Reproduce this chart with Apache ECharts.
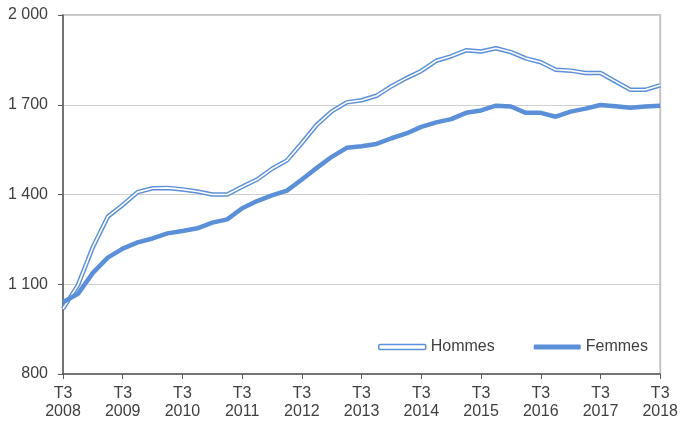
<!DOCTYPE html>
<html>
<head>
<meta charset="utf-8">
<script src="https://cdn.jsdelivr.net/npm/echarts@6/dist/echarts.min.js"></script>
<style>
  html, body { margin: 0; padding: 0; background: #fff; }
  #chart { width: 681px; height: 421px; }
</style>
</head>
<body>
<div id="chart"></div>
<script>
// trimestres, de T3 2008 à T3 2018
const quarters = [
  'T3 2008', 'T4 2008', 'T1 2009', 'T2 2009',
  'T3 2009', 'T4 2009', 'T1 2010', 'T2 2010',
  'T3 2010', 'T4 2010', 'T1 2011', 'T2 2011',
  'T3 2011', 'T4 2011', 'T1 2012', 'T2 2012',
  'T3 2012', 'T4 2012', 'T1 2013', 'T2 2013',
  'T3 2013', 'T4 2013', 'T1 2014', 'T2 2014',
  'T3 2014', 'T4 2014', 'T1 2015', 'T2 2015',
  'T3 2015', 'T4 2015', 'T1 2016', 'T2 2016',
  'T3 2016', 'T4 2016', 'T1 2017', 'T2 2017',
  'T3 2017', 'T4 2017', 'T1 2018', 'T2 2018',
  'T3 2018'
]

const hommes = [
  1018, 1097, 1224, 1326,
  1365, 1408, 1421, 1422,
  1417, 1410, 1400, 1400,
  1426, 1450, 1486, 1514,
  1572, 1633, 1678, 1708,
  1715, 1730, 1762, 1789,
  1813, 1847, 1862, 1882,
  1878, 1889, 1876, 1855,
  1842, 1817, 1814, 1806,
  1806, 1778, 1750, 1750,
  1765
]

const femmes = [
  1040, 1068, 1138, 1189,
  1219, 1240, 1253, 1270,
  1278, 1287, 1306, 1317,
  1354, 1378, 1397, 1413,
  1450, 1489, 1526, 1556,
  1561, 1569, 1588, 1604,
  1626, 1641, 1652, 1673,
  1681, 1697, 1694, 1673,
  1673, 1660, 1677, 1687,
  1699, 1695, 1690, 1694,
  1697
]

const yTicks = { min: 800, max: 2000, interval: 300 }

const blue = '#5b8fd8'
const textColor = '#404040'

// "2 000" : séparateur de milliers en espace
const fmtNum = v => String(v).replace(/\B(?=(\d{3})+(?!\d))/g, ' ')

const chart = echarts.init(document.getElementById('chart'))
chart.setOption({
  animation: false,
  textStyle: { fontFamily: 'Liberation Sans, Arial, sans-serif' },
  grid: {
    left: 63,
    right: 19,
    top: 15,
    bottom: 46,
    show: true,
    borderColor: '#c4c4c4',
    borderWidth: 2
  },
  legend: {
    left: 378,
    top: 339,
    padding: 0,
    itemWidth: 47,
    itemHeight: 5,
    itemGap: 39,
    textStyle: { fontSize: 16, color: textColor },
    data: [
      {
        name: 'Hommes',
        icon: 'roundRect',
        itemStyle: { color: '#fff', borderColor: blue, borderWidth: 1.5 }
      },
      {
        name: 'Femmes',
        icon: 'roundRect',
        itemStyle: { color: blue, borderWidth: 0 }
      }
    ]
  },
  xAxis: {
    type: 'category',
    data: quarters,
    boundaryGap: false,
    axisLine: { lineStyle: { color: '#595959', width: 1.5 } },
    axisTick: { interval: 3, length: 5, lineStyle: { color: '#595959' } },
    axisLabel: {
      interval: 3,
      margin: 11,
      fontSize: 16,
      lineHeight: 18,
      color: textColor,
      formatter: v => v.replace(' ', '\n')
    },
    splitLine: { show: false }
  },
  yAxis: {
    type: 'value',
    min: yTicks.min,
    max: yTicks.max,
    interval: yTicks.interval,
    axisLine: { show: true, lineStyle: { color: '#595959', width: 1.5 } },
    axisTick: { show: true, length: 5, lineStyle: { color: '#595959' } },
    axisLabel: {
      margin: 15,
      fontSize: 16,
      color: textColor,
      formatter: fmtNum
    },
    splitLine: { lineStyle: { color: '#cfcfcf', width: 1 } }
  },
  series: [
    {
      name: 'Hommes',
      type: 'line',
      data: hommes,
      symbol: 'none',
      z: 2,
      lineStyle: { color: blue, width: 4.5 },
      itemStyle: { color: blue }
    },
    {
      // trait blanc au centre pour la double ligne
      name: 'Hommes (intérieur)',
      type: 'line',
      data: hommes,
      symbol: 'none',
      z: 3,
      silent: true,
      lineStyle: { color: '#fff', width: 1.6 }
    },
    {
      name: 'Femmes',
      type: 'line',
      data: femmes,
      symbol: 'none',
      z: 4,
      lineStyle: { color: blue, width: 4.5 },
      itemStyle: { color: blue }
    }
  ]
})
</script>
</body>
</html>
